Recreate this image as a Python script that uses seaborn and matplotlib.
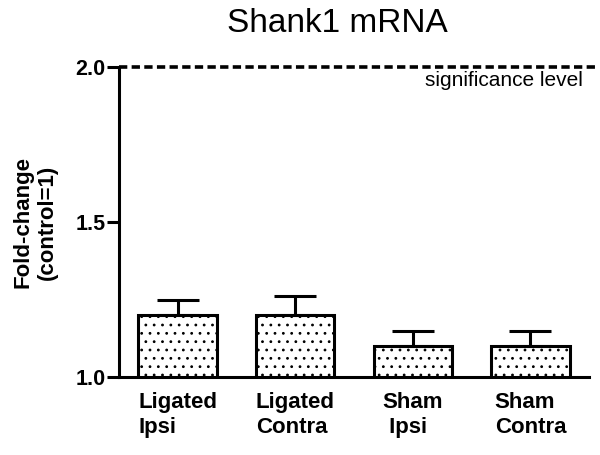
import numpy as np
import pandas as pd
import seaborn as sns
from matplotlib import pyplot as plt

groups = ["Ligated\nIpsi", "Ligated\nContra", "Sham\n Ipsi", "Sham\nContra"]
fold_change = [1.20, 1.20, 1.10, 1.10]
sem = [0.05, 0.06, 0.05, 0.05]
significance = 2.0

df = pd.DataFrame({"group": groups, "fold": fold_change})

sns.set_style("ticks")
plt.rcParams["font.family"] = ["Liberation Sans", "DejaVu Sans"]
plt.rcParams["text.color"] = "black"
plt.rcParams["axes.labelcolor"] = "black"
plt.rcParams["hatch.linewidth"] = 0.8

fig = plt.figure(figsize=(6, 4.55), dpi=100)
ax = fig.add_axes([0.198, 0.1714, 0.784, 0.6813])

sns.barplot(data=df, x="group", y="fold", ax=ax, color="white",
            edgecolor="black", linewidth=2.2, width=0.665, errorbar=None,
            hatch="..", saturation=1)
for p in ax.patches:
    p.set_facecolor("white")

ax.errorbar(np.arange(len(groups)), fold_change,
            yerr=[np.zeros(len(sem)), sem], fmt="none", ecolor="black",
            elinewidth=2.2, capsize=15, capthick=2.2, zorder=1)

# significance line
ax.axhline(significance, xmin=0.0, xmax=1.017, color="black", lw=2.6,
           dashes=(2.3, 1.2), clip_on=False, zorder=5)
ax.text(0.987, 1.939, "significance level", transform=ax.get_yaxis_transform(),
        ha="right", va="baseline", fontsize=15, color="black")

ax.set_ylim(1.0, 2.0)
ax.set_xlim(-0.5, 3.5)
ax.set_yticks([1.0, 1.5, 2.0])
ax.set_yticklabels(["1.0", "1.5", "2.0"], fontsize=15.5, fontweight="bold")
ax.tick_params(axis="y", length=8.5, width=2.2, pad=1, colors="black")
ax.tick_params(axis="x", length=0, pad=11, colors="black")
ax.set_xticks(range(len(groups)))
ax.set_xticklabels(groups, fontsize=16, fontweight="bold", ha="center",
                   multialignment="left", linespacing=1.25)

ax.set_xlabel("")
ax.set_ylabel("Fold-change\n(control=1)", fontsize=16, fontweight="bold",
              linespacing=1.2, color="black")
ax.yaxis.set_label_coords(-0.13, 0.5)

sns.despine(ax=ax)
for s in ["left", "bottom"]:
    ax.spines[s].set_linewidth(2.2)
    ax.spines[s].set_color("black")

fig.text(0.562, 1 - 32 / 455, "Shank1 mRNA", ha="center", va="baseline",
         fontsize=24, color="black")

fig.savefig("out.png", dpi=100, facecolor="white")
